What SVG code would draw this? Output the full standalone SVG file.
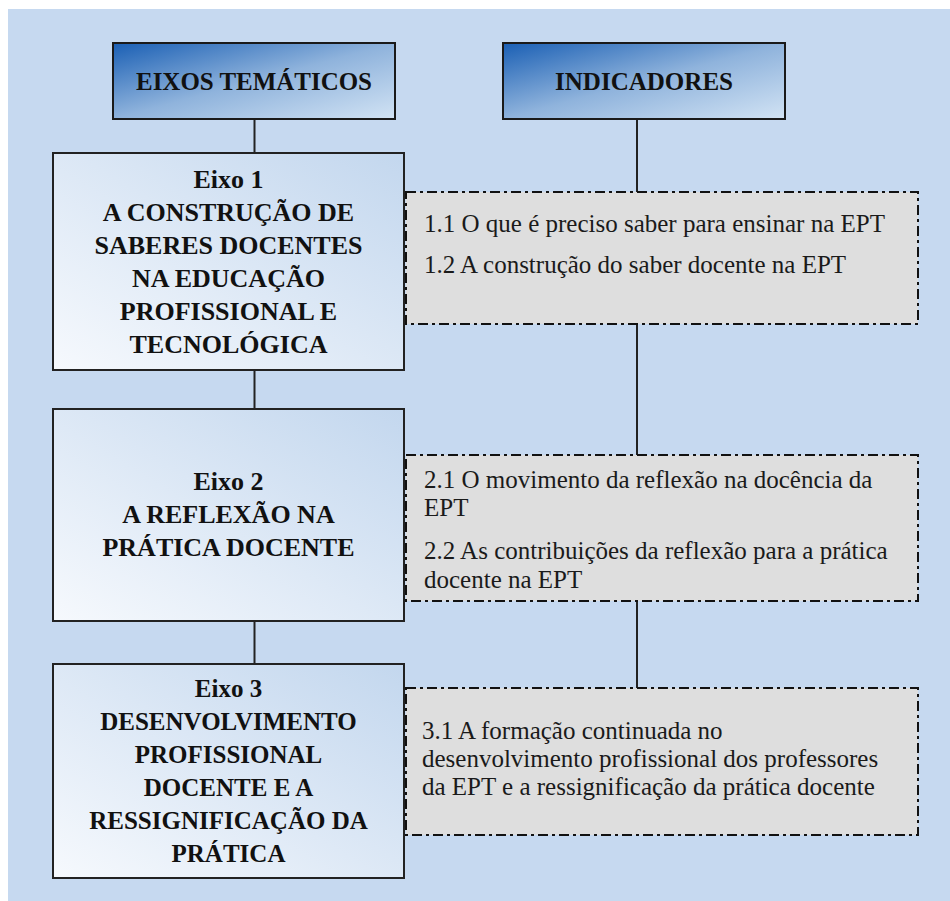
<svg xmlns="http://www.w3.org/2000/svg" width="950" height="901" viewBox="0 0 950 901">
<defs>
<linearGradient id="gHead" x1="0" y1="0" x2="1" y2="1">
<stop offset="0" stop-color="#1a5fb4"/>
<stop offset="0.5" stop-color="#8fb3dc"/>
<stop offset="1" stop-color="#d2e3f4"/>
</linearGradient>
<linearGradient id="gEixo" x1="0" y1="1" x2="1" y2="0">
<stop offset="0" stop-color="#f6f9fd"/>
<stop offset="1" stop-color="#c3d7ee"/>
</linearGradient>
<style>
.head{fill:url(#gHead);stroke:#1a1a1a;stroke-width:2}
.eixo{fill:url(#gEixo);stroke:#222;stroke-width:2}
.ind{fill:#dedede;stroke:#111;stroke-width:2;stroke-dasharray:10 4 3 4}
.conn line{stroke:#222;stroke-width:2}
.ht{font-family:"Liberation Serif","Times New Roman",serif;font-weight:bold;font-size:26px;fill:#111;text-anchor:middle}
.et{font-family:"Liberation Serif","Times New Roman",serif;font-weight:bold;font-size:26px;fill:#111;text-anchor:middle}
.et3{font-size:25px}
.it{font-family:"Liberation Serif","Times New Roman",serif;font-size:25px;fill:#1a1a1a}
</style>
</defs>
<rect x="0" y="0" width="950" height="901" fill="#ffffff"/>
<rect x="8" y="9" width="942" height="892" fill="#c6d9f0"/>

<g id="connectors" class="conn">
<line x1="254.5" y1="119" x2="254.5" y2="153"/>
<line x1="254.5" y1="370" x2="254.5" y2="409"/>
<line x1="254.5" y1="621" x2="254.5" y2="664"/>
<line x1="637" y1="119" x2="637" y2="192"/>
<line x1="637" y1="324" x2="637" y2="455"/>
<line x1="637" y1="601" x2="637" y2="688"/>
</g>

<g id="eixos-tematicos">
<rect class="head" x="113" y="43" width="282" height="76"/>
<text class="ht" x="254" y="90" textLength="236" lengthAdjust="spacingAndGlyphs">EIXOS TEMÁTICOS</text>
</g>
<g id="indicadores">
<rect class="head" x="503" y="43" width="282" height="76"/>
<text class="ht" x="644" y="90" textLength="178" lengthAdjust="spacingAndGlyphs">INDICADORES</text>
</g>

<g id="eixo1">
<rect class="eixo" x="53" y="153" width="351" height="217"/>
<text class="et" x="228.5" y="188">Eixo 1</text>
<text class="et" x="228.5" y="221">A CONSTRUÇÃO DE</text>
<text class="et" x="228.5" y="254">SABERES DOCENTES</text>
<text class="et" x="228.5" y="287">NA EDUCAÇÃO</text>
<text class="et" x="228.5" y="320">PROFISSIONAL E</text>
<text class="et" x="228.5" y="353">TECNOLÓGICA</text>
</g>
<g id="eixo2">
<rect class="eixo" x="53" y="409" width="351" height="212"/>
<text class="et" x="228.5" y="490">Eixo 2</text>
<text class="et" x="228.5" y="523">A REFLEXÃO NA</text>
<text class="et" x="228.5" y="556">PRÁTICA DOCENTE</text>
</g>
<g id="eixo3">
<rect class="eixo" x="53" y="664" width="351" height="214"/>
<text class="et et3" x="228.5" y="697">Eixo 3</text>
<text class="et et3" x="228.5" y="730">DESENVOLVIMENTO</text>
<text class="et et3" x="228.5" y="763">PROFISSIONAL</text>
<text class="et et3" x="228.5" y="796">DOCENTE E A</text>
<text class="et et3" x="228.5" y="829">RESSIGNIFICAÇÃO DA</text>
<text class="et et3" x="228.5" y="862">PRÁTICA</text>
</g>

<g id="indicador1">
<rect class="ind" x="406" y="192" width="512" height="132"/>
<text class="it" x="424" y="232">1.1 O que é preciso saber para ensinar na EPT</text>
<text class="it" x="424" y="273">1.2 A construção do saber docente na EPT</text>
</g>
<g id="indicador2">
<rect class="ind" x="406" y="455" width="512" height="146"/>
<text class="it" x="424" y="488">2.1 O movimento da reflexão na docência da</text>
<text class="it" x="424" y="516">EPT</text>
<text class="it" x="424" y="559">2.2 As contribuições da reflexão para a prática</text>
<text class="it" x="424" y="588">docente na EPT</text>
</g>
<g id="indicador3">
<rect class="ind" x="406" y="688" width="512" height="147"/>
<text class="it" x="422" y="739">3.1 A formação continuada no</text>
<text class="it" x="422" y="767">desenvolvimento profissional dos professores</text>
<text class="it" x="422" y="795">da EPT e a ressignificação da prática docente</text>
</g>
</svg>
